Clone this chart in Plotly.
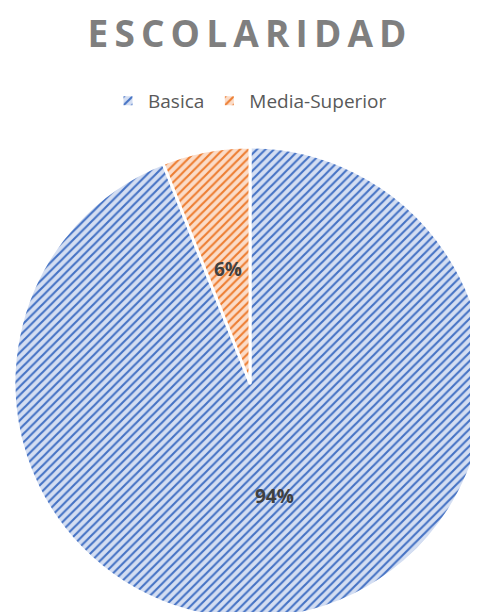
import math
import plotly.graph_objects as go

labels = ['Basica', 'Media-Superior']
values = [94, 6]
colors = ['#4472C4', '#ED7D31']
bg_colors = ['#D4DEF2', '#FBDCC8']
title = 'ESCOLARIDAD'

W, H = 478, 612
ML = 6
plot_w = W - ML
dom_y = [0.0016, 0.773]
label_r = [0.56, 0.5]   # how far out each percent label sits

fig = go.Figure()
fig.add_trace(go.Pie(
    labels=labels,
    values=values,
    sort=False,
    direction='clockwise',
    rotation=0,
    textinfo='none',
    marker=dict(
        colors=bg_colors,
        line=dict(color='white', width=3),
        pattern=dict(shape='/', fgcolor=colors, bgcolor=bg_colors, size=6, solidity=0.35),
    ),
    domain=dict(x=[0, 1], y=dom_y),
    hoverinfo='label+percent',
))

# percent labels at the middle angle of each slice
total = sum(values)
cx = 0.5
cy = (dom_y[0] + dom_y[1]) / 2
r_px = 232
start = 0
for v, f in zip(values, label_r):
    mid = (start + v / 2) / total * 2 * math.pi
    start += v
    rt = f * r_px
    ax = cx + rt * math.sin(mid) / plot_w
    ay = cy + rt * math.cos(mid) / H
    fig.add_annotation(x=ax, y=ay, xref='paper', yref='paper', showarrow=False,
                       text='<b>%d%%</b>' % round(v / total * 100),
                       font=dict(family='Open Sans', size=19, color='#404040'))

# letter spaced title, like the original
spaced = '\u2009'.join(title)
fig.update_layout(
    width=W, height=H,
    margin=dict(l=ML, r=0, t=0, b=0),
    paper_bgcolor='white',
    plot_bgcolor='white',
    title=dict(text='<b>' + spaced + '</b>', x=0.5, xanchor='center', y=0.957, yanchor='middle',
               font=dict(family='Open Sans', size=37, color='#7F7F7F')),
    legend=dict(orientation='h', x=0.5, xanchor='center', y=0.848, yanchor='middle',
                font=dict(family='Open Sans', size=19, color='#595959'),
                itemwidth=30, traceorder='normal'),
    showlegend=True,
)

fig.write_html('out.html')
